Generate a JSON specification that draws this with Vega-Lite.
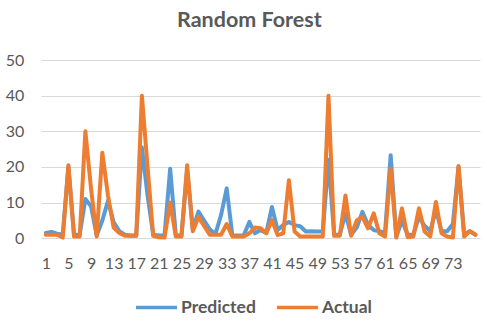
{
  "$schema": "https://vega.github.io/schema/vega-lite/v6.json",
  "autosize": {"type": "none"},
  "padding": {"left": 40.7, "top": 60, "right": 7, "bottom": 85.7},
  "width": 439.3,
  "height": 178.3,
  "background": "white",
  "title": {
    "text": "Random Forest",
    "anchor": "middle",
    "dx": -11,
    "offset": 21,
    "font": "Lato",
    "fontSize": 21.5,
    "fontWeight": "bold",
    "color": "#595959"
  },
  "config": {
    "view": {"stroke": null},
    "font": "Lato"
  },
  "data": {
    "values": [
      {"x": 1, "Predicted": 1.5, "Actual": 1},
      {"x": 2, "Predicted": 1.8, "Actual": 1},
      {"x": 3, "Predicted": 1.3, "Actual": 1},
      {"x": 4, "Predicted": 1, "Actual": 0.2},
      {"x": 5, "Predicted": 20, "Actual": 20.5},
      {"x": 6, "Predicted": 1, "Actual": 0.5},
      {"x": 7, "Predicted": 1, "Actual": 0.5},
      {"x": 8, "Predicted": 11, "Actual": 30},
      {"x": 9, "Predicted": 9, "Actual": 14},
      {"x": 10, "Predicted": 0.8, "Actual": 0.5},
      {"x": 11, "Predicted": 5, "Actual": 24},
      {"x": 12, "Predicted": 10.5, "Actual": 12},
      {"x": 13, "Predicted": 4.5, "Actual": 3},
      {"x": 14, "Predicted": 2, "Actual": 1.5},
      {"x": 15, "Predicted": 1, "Actual": 0.7},
      {"x": 16, "Predicted": 0.8, "Actual": 0.7},
      {"x": 17, "Predicted": 0.8, "Actual": 0.7},
      {"x": 18, "Predicted": 25.5, "Actual": 40},
      {"x": 19, "Predicted": 12, "Actual": 20},
      {"x": 20, "Predicted": 1, "Actual": 0.7},
      {"x": 21, "Predicted": 0.8, "Actual": 0.3},
      {"x": 22, "Predicted": 0.8, "Actual": 0.2},
      {"x": 23, "Predicted": 19.5, "Actual": 10},
      {"x": 24, "Predicted": 0.8, "Actual": 0.5},
      {"x": 25, "Predicted": 0.8, "Actual": 0.5},
      {"x": 26, "Predicted": 19, "Actual": 20.5},
      {"x": 27, "Predicted": 2.5, "Actual": 2},
      {"x": 28, "Predicted": 7.5, "Actual": 6},
      {"x": 29, "Predicted": 5, "Actual": 3.5},
      {"x": 30, "Predicted": 2.5, "Actual": 1},
      {"x": 31, "Predicted": 1.2, "Actual": 1},
      {"x": 32, "Predicted": 6.5, "Actual": 1},
      {"x": 33, "Predicted": 14, "Actual": 4},
      {"x": 34, "Predicted": 0.8, "Actual": 0.5},
      {"x": 35, "Predicted": 0.8, "Actual": 0.5},
      {"x": 36, "Predicted": 0.8, "Actual": 0.5},
      {"x": 37, "Predicted": 4.6, "Actual": 1.4},
      {"x": 38, "Predicted": 1.4, "Actual": 3},
      {"x": 39, "Predicted": 2.3, "Actual": 2.8},
      {"x": 40, "Predicted": 1.5, "Actual": 1.4},
      {"x": 41, "Predicted": 8.8, "Actual": 5.1},
      {"x": 42, "Predicted": 2.3, "Actual": 0.9},
      {"x": 43, "Predicted": 3.7, "Actual": 1.4},
      {"x": 44, "Predicted": 4.6, "Actual": 16.3},
      {"x": 45, "Predicted": 3.7, "Actual": 1.9},
      {"x": 46, "Predicted": 3.4, "Actual": 0.5},
      {"x": 47, "Predicted": 1.9, "Actual": 0.5},
      {"x": 48, "Predicted": 2, "Actual": 0.5},
      {"x": 49, "Predicted": 1.9, "Actual": 0.5},
      {"x": 50, "Predicted": 1.9, "Actual": 0.5},
      {"x": 51, "Predicted": 22, "Actual": 40},
      {"x": 52, "Predicted": 1, "Actual": 0.7},
      {"x": 53, "Predicted": 1, "Actual": 0.7},
      {"x": 54, "Predicted": 7, "Actual": 12},
      {"x": 55, "Predicted": 1, "Actual": 0.7},
      {"x": 56, "Predicted": 3, "Actual": 5},
      {"x": 57, "Predicted": 7.4, "Actual": 6},
      {"x": 58, "Predicted": 3.7, "Actual": 2.8},
      {"x": 59, "Predicted": 2.3, "Actual": 7},
      {"x": 60, "Predicted": 2, "Actual": 1.4},
      {"x": 61, "Predicted": 1.5, "Actual": 0.5},
      {"x": 62, "Predicted": 23.3, "Actual": 19.5},
      {"x": 63, "Predicted": 0.5, "Actual": 0.2},
      {"x": 64, "Predicted": 5, "Actual": 8.4},
      {"x": 65, "Predicted": 1, "Actual": 0.3},
      {"x": 66, "Predicted": 1, "Actual": 0.5},
      {"x": 67, "Predicted": 6, "Actual": 8.4},
      {"x": 68, "Predicted": 3.5, "Actual": 1.9},
      {"x": 69, "Predicted": 2, "Actual": 0.5},
      {"x": 70, "Predicted": 8, "Actual": 10.2},
      {"x": 71, "Predicted": 2, "Actual": 1.4},
      {"x": 72, "Predicted": 2, "Actual": 0.5},
      {"x": 73, "Predicted": 4, "Actual": 0.2},
      {"x": 74, "Predicted": 20, "Actual": 20.3},
      {"x": 75, "Predicted": 1, "Actual": 0.5},
      {"x": 76, "Predicted": 2, "Actual": 2},
      {"x": 77, "Predicted": 1, "Actual": 1}
    ]
  },
  "transform": [
    {"fold": ["Predicted", "Actual"], "as": ["series", "value"]}
  ],
  "mark": {"type": "line", "strokeWidth": 4, "strokeJoin": "round", "strokeCap": "round"},
  "encoding": {
    "x": {
      "field": "x",
      "type": "quantitative",
      "scale": {"domain": [0.1, 77.8], "nice": false, "zero": false},
      "axis": {
        "title": null,
        "values": [1, 5, 9, 13, 17, 21, 25, 29, 33, 37, 41, 45, 49, 53, 57, 61, 65, 69, 73],
        "grid": false,
        "ticks": false,
        "domain": false,
        "labelFont": "Lato",
        "labelFontSize": 16,
        "labelColor": "#595959",
        "labelPadding": 17,
        "labelFlush": false,
        "labelOverlap": false
      }
    },
    "y": {
      "field": "value",
      "type": "quantitative",
      "scale": {"domain": [0, 50], "nice": false},
      "axis": {
        "title": null,
        "values": [0, 10, 20, 30, 40, 50],
        "grid": true,
        "gridColor": "#D9D9D9",
        "gridWidth": 1,
        "ticks": false,
        "domain": false,
        "labelFont": "Lato",
        "labelFontSize": 16,
        "labelColor": "#595959",
        "labelPadding": 17
      }
    },
    "color": {
      "field": "series",
      "type": "nominal",
      "sort": ["Predicted", "Actual"],
      "scale": {"domain": ["Predicted", "Actual"], "range": ["#5B9BD5", "#ED7D31"]},
      "legend": {
        "title": null,
        "orient": "none",
        "direction": "horizontal",
        "legendX": 93.3,
        "legendY": 225,
        "symbolType": "stroke",
        "symbolSize": 1681,
        "symbolStrokeWidth": 3.5,
        "labelFont": "Lato",
        "labelFontSize": 17.5,
        "labelFontWeight": "bold",
        "labelColor": "#595959",
        "labelOffset": 2,
        "columnPadding": 14
      }
    }
  }
}
